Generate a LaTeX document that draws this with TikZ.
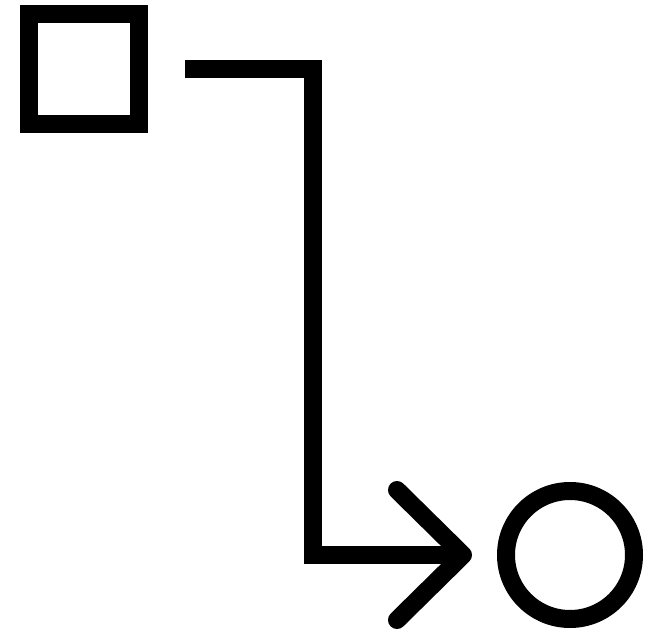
\documentclass[tikz,border=0pt]{standalone}
\begin{document}
\begin{tikzpicture}[x=1pt,y=-1pt,
  shapebox/.style={draw=black,line width=18pt,inner sep=0pt,minimum size=110pt,rectangle},
  shapering/.style={draw=black,line width=18pt,inner sep=0pt,minimum size=128pt,circle},
  conn/.style={draw=black,line width=18pt,line join=miter},
  chev/.style={draw=black,line width=18pt,line cap=round,line join=round}]
\useasboundingbox (0,0) rectangle (656,634);
\node[shapebox] (a) at (84,69) {};
\node[shapering] (b) at (570,555) {};
\coordinate (k1) at (313,69);
\coordinate (tip) at (463,555);
\draw[conn] ([xshift=37pt]a.east) -- (k1) |- (tip);
\draw[chev] (tip) ++(-66,-65) -- (tip) -- ++(-66,65);
\end{tikzpicture}
\end{document}
